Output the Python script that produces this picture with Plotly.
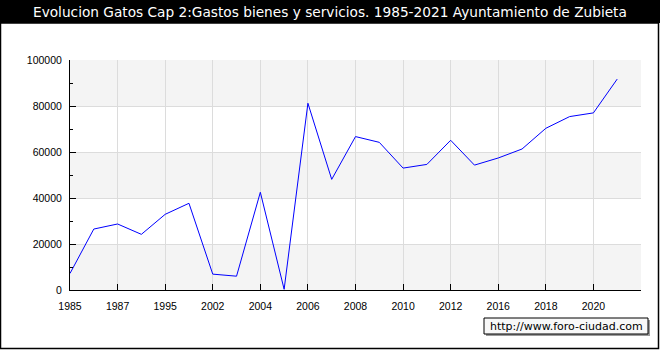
import plotly.graph_objects as go

years = ["1985", "1986", "1987", "1990", "1995", "2000", "2002", "2003",
         "2004", "2005", "2006", "2007", "2008", "2009", "2010", "2011",
         "2012", "2014", "2016", "2017", "2018", "2019", "2020", "2021"]
values = [7200, 26500, 28700, 24200, 32900, 37700, 6900, 6000,
          42500, 300, 81200, 48100, 66700, 64200, 53000, 54600,
          65100, 54300, 57400, 61300, 70300, 75400, 77000, 91700]
y_ticks = [0, 20000, 40000, 60000, 80000, 100000]
title_text = "Evolucion Gatos Cap 2:Gastos bienes y servicios. 1985-2021 Ayuntamiento de Zubieta"
watermark = "http://www.foro-ciudad.com"

FONT = "DejaVu Sans"
TICKFONT = "Liberation Sans"
W, H = 660, 350
L, R, T, B = 70, 641, 60, 290
PW, PH = R - L, B - T


def xp(px):
    return (px - L) / PW


def yp(py):
    return (B - py) / PH


idx = list(range(len(years)))
tickvals = idx[::2] + [len(years)]
ticktext = years[::2] + [""]

fig = go.Figure()
fig.add_trace(go.Scatter(x=idx, y=values, mode="lines",
                         line=dict(color="#0000ff", width=1), hoverinfo="skip"))

shapes = []
for i in range(0, len(y_ticks) - 1, 2):
    shapes.append(dict(type="rect", xref="paper", yref="y", x0=0, x1=1,
                       y0=y_ticks[i], y1=y_ticks[i + 1], fillcolor="#f4f4f4",
                       line=dict(width=0), layer="below"))
shapes.append(dict(type="rect", xref="paper", yref="paper", x0=xp(0), x1=xp(W),
                   y0=yp(23), y1=yp(0), fillcolor="black", line=dict(width=0), layer="above"))
shapes.append(dict(type="rect", xref="paper", yref="paper", x0=xp(0.5), x1=xp(658.5),
                   y0=yp(348.5), y1=yp(23), line=dict(color="black", width=1.5),
                   fillcolor="rgba(0,0,0,0)", layer="above"))
shapes.append(dict(type="rect", xref="paper", yref="paper", x0=xp(486), x1=xp(650),
                   y0=yp(336), y1=yp(320), fillcolor="#9a9a9a", line=dict(width=0), layer="above"))
shapes.append(dict(type="rect", xref="paper", yref="paper", x0=xp(484), x1=xp(648),
                   y0=yp(334), y1=yp(318), fillcolor="#f8f8f8",
                   line=dict(color="black", width=1), layer="above"))

annotations = [
    dict(text=title_text, xref="paper", yref="paper", x=xp(330), y=yp(12),
         xanchor="center", yanchor="middle", showarrow=False,
         font=dict(family=FONT, size=13.7, color="white")),
    dict(text=watermark, xref="paper", yref="paper", x=xp(566), y=yp(326),
         xanchor="center", yanchor="middle", showarrow=False,
         font=dict(family=FONT, size=11, color="black")),
]

fig.update_layout(
    width=W, height=H,
    margin=dict(l=L, r=W - R, t=T, b=H - B, pad=0),
    paper_bgcolor="white", plot_bgcolor="white",
    showlegend=False,
    shapes=shapes, annotations=annotations,
    font=dict(family=TICKFONT, size=10.5, color="black"),
)
fig.update_xaxes(range=[0, len(years)], tickmode="array", tickvals=tickvals, ticktext=ticktext,
                 showgrid=True, gridcolor="#dcdcdc", gridwidth=1,
                 showline=True, linecolor="black", linewidth=1,
                 ticks="inside", ticklen=6, tickcolor="black",
                 ticklabelstandoff=6, zeroline=False,
                 tickfont=dict(family=TICKFONT, size=10.5, color="black"))
fig.update_yaxes(range=[0, 100000], tickmode="array", tickvals=y_ticks,
                 ticktext=[str(v) for v in y_ticks],
                 showgrid=True, gridcolor="#dcdcdc", gridwidth=1,
                 showline=True, linecolor="black", linewidth=1,
                 ticks="inside", ticklen=6, tickcolor="black",
                 minor=dict(ticks="inside", ticklen=3, tickcolor="black",
                            tickvals=[10000, 30000, 50000, 70000, 90000], showgrid=False),
                 ticklabelstandoff=5, zeroline=False,
                 tickfont=dict(family=TICKFONT, size=10.5, color="black"))

fig.write_html("out.html")
